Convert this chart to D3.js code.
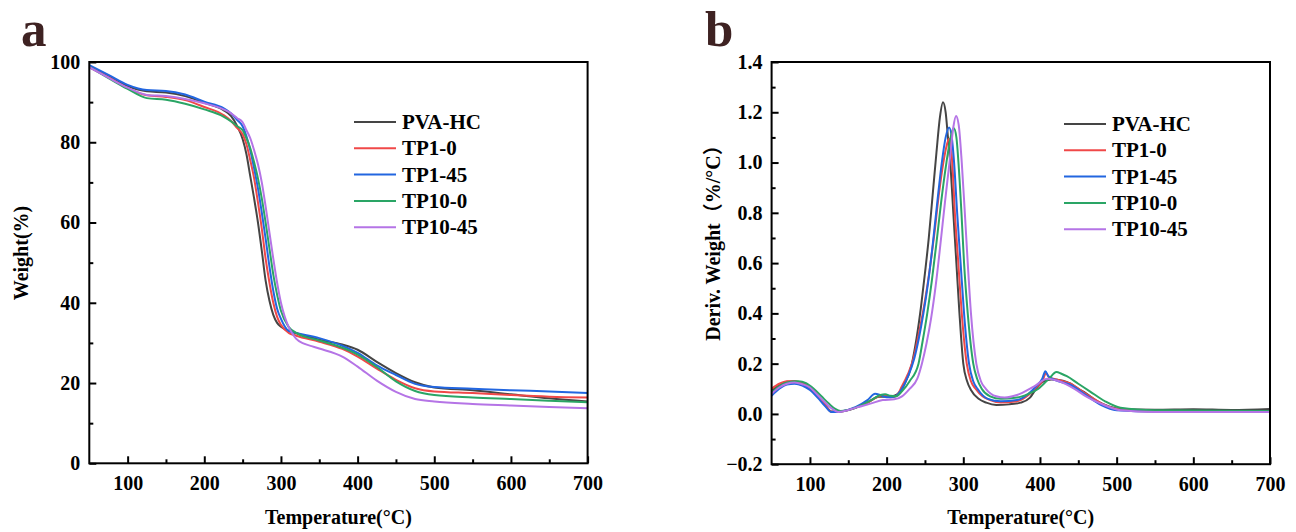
<!DOCTYPE html>
<html>
<head>
<meta charset="utf-8">
<script src="https://cdn.jsdelivr.net/npm/d3@7"></script>
<style>
  body { margin: 0; background: #fff; }
  svg text { font-family: "Times New Roman", "Liberation Serif", "Noto Sans CJK SC", serif; font-weight: bold; }
</style>
</head>
<body>
<svg id="chart" width="1296" height="532"></svg>
<script>
// series names + colours
var seriesNames = ["PVA-HC", "TP1-0", "TP1-45", "TP10-0", "TP10-45"];
var seriesColors = ["#454545", "#f04848", "#2266e0", "#2aa565", "#b574e6"];

// TGA weight (%) vs temperature
var tgaPVAHC = [[50,99],[75,96.4],[100,94.0],[125,92.7],[150,92.4],[175,91.5],[200,89.8],[225,88.0],[235,86.5],[243,84],[250,80.8],[255,77],[260,71.5],[265,66],[270,60],[275,53],[280,45.5],[285,40.5],[290,37],[295,35],[300,34],[310,33],[320,32.4],[350,30.8],[380,29.6],[400,28.3],[425,25.3],[450,22.5],[475,20.2],[500,18.9],[550,18.2],[600,17.2],[650,16.2],[700,15.4]];
var tgaTP1_0 = [[50,98.7],[75,96.2],[100,93.5],[125,91.7],[150,91.3],[175,90.5],[200,88.8],[225,86.8],[235,85.3],[243,83.5],[250,82],[255,79.5],[260,75.5],[265,71],[270,65],[275,58.5],[280,51],[285,45],[290,40],[295,36.5],[300,34.5],[310,32.5],[320,31.8],[350,30.3],[380,28.5],[400,26.6],[425,23.6],[450,20.8],[475,18.7],[500,17.9],[550,17.5],[600,17.0],[650,16.6],[700,16.4]];
var tgaTP1_45 = [[50,99.2],[75,96.8],[100,94.3],[125,93.0],[150,92.8],[175,91.9],[200,90.1],[225,88.5],[235,87.2],[243,85.5],[250,84],[255,81.5],[260,78],[265,73.5],[270,68.5],[275,62.5],[280,56],[285,49],[290,43],[295,38.5],[300,36],[310,33],[320,32.5],[350,31.2],[380,29.3],[400,27.5],[425,24.4],[450,22.0],[475,19.8],[500,19.0],[550,18.6],[600,18.2],[650,17.9],[700,17.5]];
var tgaTP10_0 = [[50,98.8],[75,96.0],[100,93.3],[125,91.0],[150,90.6],[175,89.6],[200,88.2],[225,86.4],[235,85.2],[243,84],[250,83],[255,81],[260,78.5],[265,75],[270,71],[275,66],[280,60],[285,53.5],[290,47],[295,42],[300,38],[310,34],[320,32.5],[350,30.6],[380,28.8],[400,27.1],[425,24.0],[450,20.4],[475,18.0],[500,17.0],[550,16.4],[600,16.0],[650,15.6],[700,15.2]];
var tgaTP10_45 = [[50,98.7],[75,96.1],[100,93.6],[125,91.8],[150,91.5],[175,90.8],[200,89.7],[225,88.2],[235,87.2],[243,86],[250,85],[255,83],[260,81],[265,78],[270,74.5],[275,70],[280,64],[285,57.5],[290,51],[295,45],[300,40],[305,36.5],[310,34],[315,32.3],[320,31],[330,29.8],[340,29.2],[350,28.6],[380,26.6],[400,24.1],[425,20.6],[450,17.8],[475,16.0],[500,15.4],[550,14.8],[600,14.4],[650,14.0],[700,13.7]];

// DTG deriv. weight (%/°C) vs temperature
var dtgPVAHC = [[50,0.095],[60,0.115],[70,0.128],[80,0.13],[90,0.12],[100,0.1],[110,0.07],[120,0.035],[128,0.01],[140,0.01],[160,0.025],[175,0.045],[190,0.068],[200,0.068],[210,0.072],[222,0.11],[233,0.2],[239,0.3],[245,0.43],[250,0.56],[255,0.7],[260,0.87],[265,1.04],[269.5,1.18],[273.5,1.24],[277,1.2],[280,1.1],[283,1.0],[287,0.8],[291,0.6],[295,0.4],[300,0.2],[305,0.13],[310,0.095],[320,0.06],[330,0.045],[343,0.036],[360,0.038],[375,0.045],[387,0.065],[395,0.1],[405,0.13],[415,0.137],[430,0.132],[440,0.12],[450,0.1],[460,0.082],[475,0.05],[490,0.03],[505,0.02],[550,0.017],[600,0.019],[650,0.016],[700,0.02]];
var dtgTP1_0 = [[50,0.1],[60,0.12],[70,0.13],[80,0.13],[90,0.122],[100,0.105],[110,0.075],[120,0.035],[128,0.009],[140,0.01],[160,0.025],[175,0.045],[190,0.07],[197,0.075],[205,0.066],[212,0.07],[220,0.11],[228,0.16],[235,0.22],[242,0.32],[250,0.45],[256,0.57],[262,0.71],[268,0.87],[274,1.0],[278.5,1.07],[281.5,1.095],[284,1.06],[286,0.98],[289,0.8],[293.5,0.6],[298,0.4],[304.5,0.2],[310,0.13],[316,0.1],[325,0.07],[335,0.055],[349,0.045],[370,0.05],[385,0.075],[395,0.105],[403,0.13],[408,0.162],[412,0.145],[420,0.138],[440,0.12],[460,0.08],[480,0.042],[500,0.02],[550,0.01],[600,0.01],[700,0.01]];
var dtgTP1_45 = [[50,0.072],[60,0.1],[70,0.117],[80,0.12],[90,0.113],[100,0.095],[110,0.065],[120,0.03],[128,0.008],[140,0.01],[160,0.028],[175,0.055],[185,0.08],[192,0.075],[200,0.066],[210,0.068],[220,0.1],[228,0.15],[236,0.22],[242,0.3],[248,0.4],[254,0.52],[260,0.67],[266,0.84],[272,1.0],[277,1.1],[281.5,1.139],[285,1.1],[288,1.0],[292,0.8],[296.5,0.6],[301,0.4],[307.5,0.2],[313,0.13],[318.5,0.1],[332,0.06],[349,0.05],[370,0.055],[385,0.08],[395,0.11],[403,0.14],[407,0.17],[411,0.15],[420,0.135],[440,0.115],[460,0.075],[480,0.035],[500,0.015],[550,0.01],[700,0.01]];
var dtgTP10_0 = [[50,0.085],[60,0.11],[70,0.125],[85,0.13],[95,0.122],[105,0.1],[115,0.07],[125,0.04],[133,0.02],[140,0.012],[160,0.025],[180,0.055],[192,0.075],[198,0.078],[205,0.072],[212,0.07],[220,0.09],[230,0.13],[241.6,0.2],[247,0.29],[253,0.4],[259,0.53],[265,0.68],[271,0.84],[278,1.0],[283.5,1.1],[287.5,1.137],[291,1.1],[293.7,1.0],[297.6,0.8],[301,0.6],[305.8,0.4],[313,0.2],[318,0.14],[324,0.1],[335,0.07],[349,0.06],[370,0.065],[385,0.08],[398,0.1],[411.7,0.14],[421.5,0.167],[428,0.16],[435,0.15],[450,0.12],[465,0.09],[485,0.05],[505,0.025],[550,0.015],[700,0.012]];
var dtgTP10_45 = [[50,0.08],[60,0.105],[70,0.12],[80,0.125],[90,0.118],[100,0.105],[110,0.075],[120,0.045],[130,0.018],[137,0.008],[160,0.025],[180,0.042],[195,0.055],[210,0.058],[220,0.07],[230,0.1],[240,0.14],[246,0.2],[252,0.28],[258,0.38],[264,0.51],[270,0.67],[276,0.84],[282,1.0],[287,1.14],[290.5,1.185],[294,1.15],[298,1.0],[302,0.8],[305.8,0.6],[310,0.4],[317,0.2],[323,0.13],[329.4,0.1],[343,0.07],[354,0.065],[370,0.075],[392.5,0.11],[410,0.14],[425,0.13],[445,0.1],[460,0.07],[480,0.04],[505,0.015],[550,0.008],[700,0.008]];

var xTicks = [100, 200, 300, 400, 500, 600, 700];
var xMinor = [150, 250, 350, 450, 550, 650];
var yTicksA = [0, 20, 40, 60, 80, 100];
var yMinorA = [10, 30, 50, 70, 90];
var yTicksB = [-0.2, 0, 0.2, 0.4, 0.6, 0.8, 1.0, 1.2, 1.4];
var yMinorB = [-0.1, 0.1, 0.3, 0.5, 0.7, 0.9, 1.1, 1.3];

var svg = d3.select("#chart");

function panel(opt) {
    var x = d3.scaleLinear().domain([50, 700]).range([opt.left, opt.right]);
    var y = d3.scaleLinear().domain(opt.ydomain).range([opt.bottom, opt.top]);
    var g = svg.append("g");

    // minor ticks first
    g.append("g").attr("transform", "translate(0," + opt.bottom + ")")
        .call(d3.axisBottom(x).tickValues(xMinor).tickSize(-4).tickFormat(""))
        .call(s => s.select(".domain").remove());
    g.append("g").attr("transform", "translate(" + opt.left + ",0)")
        .call(d3.axisLeft(y).tickValues(opt.yminor).tickSize(-4).tickFormat(""))
        .call(s => s.select(".domain").remove());

    var xa = g.append("g").attr("transform", "translate(0," + opt.bottom + ")")
        .call(d3.axisBottom(x).tickValues(xTicks).tickSize(-7).tickPadding(12.5).tickFormat(d3.format("d")));
    xa.select(".domain").remove();
    var ya = g.append("g").attr("transform", "translate(" + opt.left + ",0)")
        .call(d3.axisLeft(y).tickValues(opt.yticks).tickSize(-7).tickPadding(9).tickFormat(opt.yfmt));
    ya.select(".domain").remove();
    g.selectAll(".tick line").attr("stroke", "#000").attr("stroke-width", 2);
    g.selectAll(".tick text").attr("fill", "#000").style("font-size", "20px")
        .style("font-family", '"Times New Roman", "Liberation Serif", serif').style("font-weight", "bold");

    var line = d3.line().x(d => x(d[0])).y(d => y(d[1])).curve(d3.curveMonotoneX);
    opt.data.forEach(function (s, i) {
        g.append("path").datum(s).attr("d", line)
            .attr("fill", "none").attr("stroke", seriesColors[i]).attr("stroke-width", 2);
    });

    g.append("rect").attr("x", opt.left).attr("y", opt.top)
        .attr("width", opt.right - opt.left).attr("height", opt.bottom - opt.top)
        .attr("fill", "none").attr("stroke", "#000").attr("stroke-width", 2);

    // legend
    var lg = g.append("g");
    seriesNames.forEach(function (n, i) {
        var ly = opt.legY + i * 26.3;
        lg.append("line").attr("x1", opt.legX).attr("x2", opt.legX + 42)
            .attr("y1", ly).attr("y2", ly).attr("stroke", seriesColors[i]).attr("stroke-width", 2);
        lg.append("text").attr("x", opt.legX + 48).attr("y", ly + 7)
            .style("font-size", "21px").text(n);
    });

    g.append("text").attr("x", (opt.left + opt.right) / 2).attr("y", 524)
        .attr("text-anchor", "middle").style("font-size", "20px").text("Temperature(°C)");
    g.append("text").attr("transform", "translate(" + opt.ytitleX + "," + opt.ytitleY + ") rotate(-90)")
        .attr("text-anchor", "middle").style("font-size", "20px").text(opt.ytitle);

    g.append("text").attr("x", opt.labX).attr("y", 46).attr("fill", "#3e2222")
        .style("font-size", "51px").text(opt.label);
}

panel({
    left: 89.3, right: 587.6, top: 62, bottom: 463.3,
    ydomain: [0, 100], yticks: yTicksA, yminor: yMinorA, yfmt: d3.format("d"),
    data: [tgaPVAHC, tgaTP1_0, tgaTP1_45, tgaTP10_0, tgaTP10_45],
    legX: 354, legY: 122, ytitle: "Weight(%)", ytitleX: 28, ytitleY: 253,
    label: "a", labX: 21
});

panel({
    left: 771.6, right: 1270, top: 62, bottom: 464.2,
    ydomain: [-0.2, 1.4], yticks: yTicksB, yminor: yMinorB, yfmt: d3.format(".1f"),
    data: [dtgPVAHC, dtgTP1_0, dtgTP1_45, dtgTP10_0, dtgTP10_45],
    legX: 1064, legY: 124, ytitle: "Deriv. Weight（%/°C）", ytitleX: 720, ytitleY: 238,
    label: "b", labX: 705
});
</script>
</body>
</html>
